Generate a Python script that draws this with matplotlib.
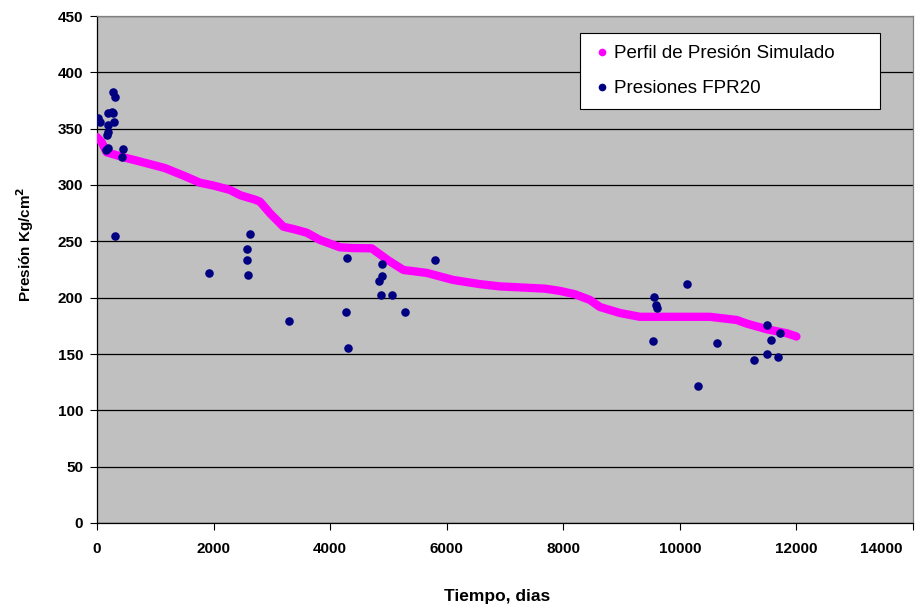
import matplotlib
matplotlib.use("Agg")
import matplotlib.pyplot as plt
import matplotlib.transforms as mtransforms
import numpy as np

plt.rcParams['font.family'] = ['Liberation Sans', 'DejaVu Sans']

# Simulated pressure profile
sim_t = [0, 80, 166, 300, 424, 800, 1167, 1500, 1767, 2000, 2282, 2453, 2711, 2797,
         2968, 3197, 3400, 3597, 3826, 4169, 4400, 4712, 5000, 5256, 5656, 6113,
         6571, 6914, 7300, 7686, 7943, 8200, 8457, 8629, 8972, 9315, 9600, 10000,
         10517, 10975, 11146, 11489, 11832, 11975, 12000]
sim_p = [342.5, 338, 329, 327, 325, 320, 315, 308, 302, 299.5, 295.6, 291, 287, 285.2,
         274.9, 263, 260.5, 257.7, 251.2, 244.7, 244, 243.8, 233, 224.6, 222, 215.7,
         212, 210, 209, 208, 206, 203, 198, 191.7, 186.4, 183, 183, 183,
         183, 180.2, 177, 172, 168.4, 166, 165.5]

# Measured pressures FPR20
obs_t = [22, 46, 274, 309, 183, 252, 274, 286, 195, 183, 166, 195, 160, 441, 434, 309,
         1921, 2625, 2568, 2568, 2591, 3289, 4289, 4267, 4301, 4890, 4884, 4833, 4872,
         5061, 5279, 5804, 10122, 9556, 9590, 9602, 9539, 10632, 10316, 11495, 11723,
         11563, 11266, 11495, 11689]
obs_p = [359.2, 356.2, 382.3, 377.8, 363.6, 365, 364, 356, 353, 347, 344, 332.5, 331,
         331.7, 325, 254.7,
         221.5, 256.2, 243, 233.7, 220.4, 179.6, 235.2, 187.3, 155.3, 230.2, 219, 215.1,
         202.4, 202.4, 187.3, 233.7, 212.1, 200.6, 193.5, 190.5, 161.3, 160, 121.6,
         175.7, 168.4, 162.7, 144.7, 150, 147.3]

fig = plt.figure(figsize=(9.19, 6.09), dpi=100)
ax = fig.add_axes([97/919, 1 - 523/609, (913-97)/919, (523-16)/609])
ax.set_facecolor('#C0C0C0')

ax.set_xlim(0, 14000)
ax.set_ylim(0, 450)
ax.set_xticks(np.arange(0, 14001, 2000))
ax.set_yticks(np.arange(0, 451, 50))
ax.yaxis.grid(True, color='black', linewidth=0.9)
ax.set_axisbelow(True)

ax.plot(sim_t, sim_p, color='#FF00FF', linewidth=6, solid_capstyle='round',
        solid_joinstyle='round', zorder=3)
ax.scatter(obs_t, obs_p, s=38, color='#000080', zorder=4, linewidths=0)

# legend handles
ax.plot([], [], 'o', color='#FF00FF', markersize=4.5, label='Perfil de Presión Simulado')
ax.plot([], [], 'o', color='#000080', markersize=4.5, label='Presiones FPR20')
leg = ax.legend(loc='upper left',
                bbox_to_anchor=(580/919, 1 - 108/609, 300/919, 75/609),
                bbox_transform=fig.transFigure, mode='expand',
                frameon=True, fancybox=False,
                edgecolor='black', facecolor='white', framealpha=1,
                fontsize=13.5, handletextpad=0.15, handlelength=1.0,
                labelspacing=0.95, borderpad=0.65, borderaxespad=0)
leg.get_frame().set_linewidth(0.8)

ax.tick_params(axis='y', direction='out', length=5, width=0.8, color='black',
               pad=5, labelsize=11)
ax.tick_params(axis='x', direction='out', length=5, width=0.8, color='black',
               pad=9, labelsize=11)
for lbl in ax.get_xticklabels() + ax.get_yticklabels():
    lbl.set_fontweight('bold')

# last x tick label shifted left to stay inside the figure
fig.canvas.draw()
last = ax.get_xticklabels()[-1]
last.set_transform(last.get_transform() +
                   mtransforms.ScaledTranslation(-32/100, 0, fig.dpi_scale_trans))

for side in ['left', 'bottom']:
    ax.spines[side].set_color('black')
    ax.spines[side].set_linewidth(0.9)
for side in ['right', 'top']:
    ax.spines[side].set_color('#808080')
    ax.spines[side].set_linewidth(0.9)

fig.text(497/919, 1 - 597/609, 'Tiempo, dias', ha='center', va='center',
         fontsize=12.5, fontweight='bold')
fig.text(25/919, 1 - 244/609, 'Presión Kg/cm$^\\mathbf{2}$', ha='center', va='center',
         rotation=90, fontsize=11, fontweight='bold')

fig.savefig('out.png', dpi=100, facecolor='white')
